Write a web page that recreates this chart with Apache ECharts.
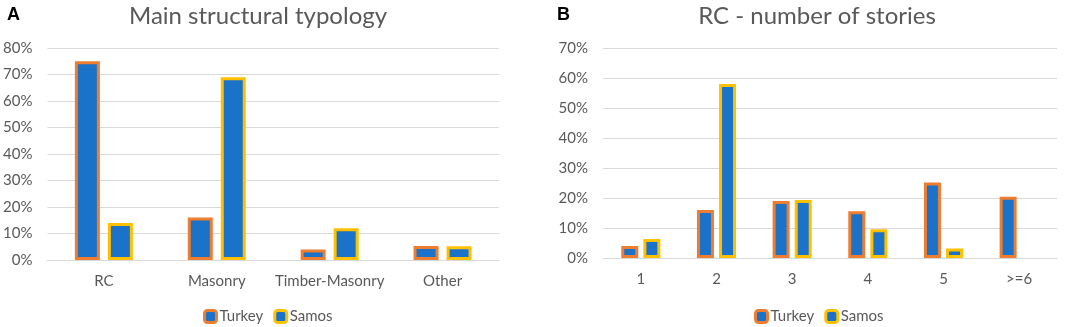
<!DOCTYPE html>
<html>
<head>
    <meta charset="UTF-8">
    <script type="text/javascript" src="https://cdn.jsdelivr.net/npm/echarts@6/dist/echarts.min.js"></script>
    <title>Typology</title>
    <style>
        html, body { margin: 0; padding: 0; background: #fff; }
        #main { width: 1072px; height: 327px; }
    </style>
</head>
<body>
    <div id="main"></div>
    <script type="text/javascript">
    // A: main structural typology
    var typeCats = ['RC', 'Masonry', 'Timber-Masonry', 'Other'];
    var typeTurkey = [75, 16, 4, 5.3];
    var typeSamos = [14, 69, 12, 5.2];

    // B: RC - number of stories
    var storyCats = ['1', '2', '3', '4', '5', '>=6'];
    var storyTurkey = [4, 16, 19, 15.6, 25.2, 20.4];
    var storySamos = [6.3, 58, 19.3, 9.6, 3.2, 0];

    var fillBlue = '#1a72c9';
    var orange = '#ed7d31';
    var yellow = '#ffc000';
    var txt = '#595959';
    var gridCol = '#d9d9d9';
    var ff = 'Lato, "Open Sans", sans-serif';

    function xAx(idx, cats) {
        return {
            type: 'category', gridIndex: idx, data: cats,
            axisLine: { lineStyle: { color: gridCol } },
            axisTick: { show: false },
            axisLabel: { color: txt, fontSize: 15, fontFamily: ff, margin: 14, interval: 0 }
        };
    }
    function yAx(idx, max) {
        return {
            type: 'value', gridIndex: idx, min: 0, max: max, interval: 10,
            axisLine: { show: false },
            axisTick: { show: false },
            splitLine: { lineStyle: { color: gridCol, width: 1 } },
            axisLabel: { color: txt, fontSize: 15, fontFamily: ff, margin: 15, formatter: '{value}%' }
        };
    }
    function bar(name, idx, data, border, w, gap) {
        // zero values draw no bar at all (no border stub)
        var vals = data.map(function (v) { return v === 0 ? '-' : v; });
        return {
            name: name, type: 'bar', xAxisIndex: idx, yAxisIndex: idx,
            data: vals, barWidth: w, barGap: gap,
            itemStyle: { color: fillBlue, borderColor: border, borderWidth: 3 }
        };
    }
    function legend(left) {
        return {
            data: ['Turkey', 'Samos'], left: left, top: 304, itemWidth: 12, itemHeight: 12, itemGap: 10,
            itemStyle: { borderWidth: 3 },
            textStyle: { color: txt, fontSize: 15, fontFamily: ff, padding: [0, 0, 0, -2] }
        };
    }

    var chart = echarts.init(document.getElementById('main'));
    var option = {
        animation: false,
        title: [
            { text: 'A', left: 2, top: 1, textStyle: { fontSize: 18, fontWeight: 'bold', color: '#000', fontFamily: 'Liberation Sans, Arial' } },
            { text: 'Main structural typology', left: 253, top: -1, textAlign: 'center', textStyle: { fontSize: 24, fontWeight: 'normal', color: txt, fontFamily: ff } },
            { text: 'B', left: 552, top: 1, textStyle: { fontSize: 18, fontWeight: 'bold', color: '#000', fontFamily: 'Liberation Sans, Arial' } },
            { text: 'RC - number of stories', left: 812, top: -1, textAlign: 'center', textStyle: { fontSize: 24, fontWeight: 'normal', color: txt, fontFamily: ff } }
        ],
        legend: [legend(198), legend(749)],
        grid: [
            { left: 45, top: 48, width: 454, height: 212 },
            { left: 603, top: 48, width: 454, height: 210 }
        ],
        xAxis: [xAx(0, typeCats), xAx(1, storyCats)],
        yAxis: [yAx(0, 80), yAx(1, 70)],
        series: [
            bar('Turkey', 0, typeTurkey, orange, 25, '32%'),
            bar('Samos', 0, typeSamos, yellow, 25, '32%'),
            bar('Turkey', 1, storyTurkey, orange, 17, '30%'),
            bar('Samos', 1, storySamos, yellow, 17, '30%')
        ]
    };
    chart.setOption(option);
    </script>
</body>
</html>
